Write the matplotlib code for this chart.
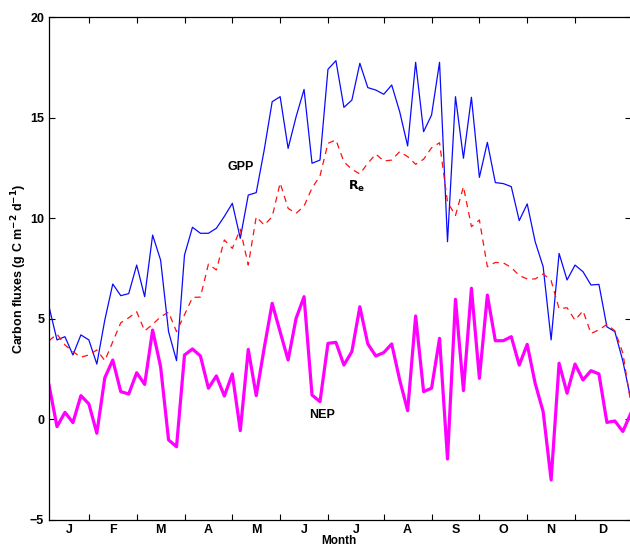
import matplotlib.pyplot as plt
import numpy as np

# 5-day mean carbon fluxes (g C m-2 d-1)
gpp = [5.6, 3.95, 4.11, 3.2, 4.2, 3.95, 2.75, 4.94, 6.73, 6.15,
       6.25, 7.67, 6.1, 9.16, 7.92, 4.36, 2.92, 8.17, 9.55, 9.25,
       9.25, 9.5, 10.09, 10.74, 9.0, 11.15, 11.27, 13.39, 15.79, 16.04,
       13.47, 15.04, 16.4, 12.73, 12.89, 17.4, 17.83, 15.51, 15.87, 17.7,
       16.49, 16.37, 16.16, 16.62, 15.29, 13.59, 17.75, 14.3, 15.13, 17.75,
       8.83, 16.04, 12.98, 16.01, 12.03, 13.77, 11.77, 11.72, 11.57, 9.88,
       10.71, 8.83, 7.59, 3.95, 8.25, 6.93, 7.67, 7.34, 6.68, 6.71,
       4.6, 4.36, 2.9, 1.0]
reco = [3.91, 4.24, 3.7, 3.37, 3.09, 3.2, 3.45, 2.92, 3.86, 4.8,
        5.05, 5.35, 4.4, 4.72, 5.1, 5.33, 4.36, 5.2, 6.06, 6.08,
        7.72, 7.43, 8.92, 8.5, 9.45, 7.67, 10.07, 9.66, 10.07, 11.75,
        10.49, 10.24, 10.6, 11.5, 12.1, 13.72, 13.89, 12.8, 12.43, 12.2,
        12.73, 13.19, 12.84, 12.89, 13.31, 13.06, 12.68, 12.93, 13.5, 13.75,
        10.8, 10.13, 11.57, 9.58, 9.91, 7.59, 7.8, 7.78, 7.55, 7.15,
        6.98, 6.98, 7.23, 6.9, 5.5, 5.55, 4.93, 5.4, 4.27, 4.45,
        4.72, 4.4, 3.3, 0.8]
nep = [1.71, -0.36, 0.35, -0.16, 1.18, 0.77, -0.69, 2.07, 2.95, 1.38,
       1.26, 2.32, 1.74, 4.44, 2.62, -1.02, -1.36, 3.2, 3.5, 3.15,
       1.55, 2.16, 1.16, 2.26, -0.56, 3.48, 1.18, 3.55, 5.77, 4.35,
       2.95, 5.02, 6.1, 1.21, 0.88, 3.78, 3.83, 2.7, 3.37, 5.6,
       3.75, 3.15, 3.32, 3.75, 1.96, 0.43, 5.14, 1.38, 1.55, 4.03,
       -1.97, 5.97, 1.43, 6.52, 2.04, 6.18, 3.91, 3.91, 4.11, 2.7,
       3.73, 1.79, 0.38, -3.01, 2.79, 1.3, 2.75, 1.96, 2.42, 2.26,
       -0.15, -0.08, -0.6, 0.3]

month_edges = [5, 11, 17, 23, 29, 35, 42, 48, 54, 60, 66]
month_labels = ['J', 'F', 'M', 'A', 'M', 'J', 'J', 'A', 'S', 'O', 'N', 'D']

plt.rcParams['font.family'] = ['Liberation Sans', 'DejaVu Sans']
plt.rcParams['font.weight'] = 'bold'

x = np.arange(len(gpp))

fig = plt.figure(figsize=(6.3, 5.47), dpi=100)
ax = fig.add_axes([0.0778, 0.0494, 0.9235, 0.9195])

ax.plot(x, gpp, color='#0a0aff', lw=0.9)
ax.plot(x, reco, color='#ff1010', lw=0.9, dashes=(5, 4))
ax.plot(x, nep, color='#ff00ff', lw=2.3)

ax.text(24.1, 12.55, 'GPP', fontsize=9, fontweight='bold', ha='center', va='center')
ax.text(38.6, 11.6, r'$\mathbf{R_e}$', fontsize=9, ha='center', va='center')
ax.text(34.3, 0.22, 'NEP', fontsize=9, fontweight='bold', ha='center', va='center')

ax.set_xlim(0, 73)
ax.set_ylim(-5, 20)
ax.set_yticks([-5, 0, 5, 10, 15, 20])
ax.set_yticklabels(['\u22125', '0', '5', '10', '15', '20'])

# month boundaries as ticks, month letters in between
ax.set_xticks(month_edges)
ax.set_xticklabels([])
edges = [0] + month_edges + [73]
mids = [(a + b) / 2 for a, b in zip(edges[:-1], edges[1:])]
ax.set_xticks(mids, minor=True)
ax.set_xticklabels(month_labels, minor=True)
ax.tick_params(axis='x', which='minor', length=0, pad=3, labelsize=9)
ax.tick_params(which='major', direction='in', length=4, top=True, right=True,
               labelsize=9, width=0.8)

ax.set_ylabel('Carbon fluxes (g C m$^{\\mathbf{-2}}$ d$^{\\mathbf{-1}}$)',
              fontsize=9, fontweight='bold', labelpad=1)
fig.text(0.538, 0.0, 'Month', fontsize=8.5, fontweight='bold',
         ha='center', va='bottom')

for s in ax.spines.values():
    s.set_linewidth(0.9)

fig.savefig('out.png', dpi=100)
